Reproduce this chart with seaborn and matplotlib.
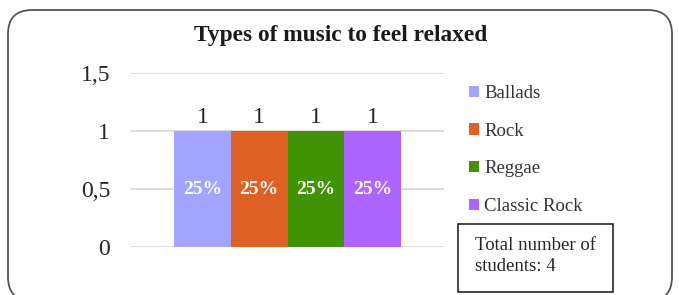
import matplotlib
matplotlib.use("Agg")
import matplotlib.pyplot as plt
from matplotlib.patches import FancyBboxPatch
from matplotlib.transforms import IdentityTransform
import pandas as pd
import seaborn as sns

genres = ["Ballads", "Rock", "Reggae", "Classic Rock"]
students = [1, 1, 1, 1]
colors = ["#A3A4FF", "#DF6126", "#419205", "#AC66FF"]
total_students = sum(students)

data = pd.DataFrame({"group": ["all"] * len(genres),
                     "Genre": genres,
                     "Students": students})

sns.set_theme(style="white")
plt.rcParams["font.family"] = ["Liberation Serif", "DejaVu Serif"]

fig = plt.figure(figsize=(6.79, 2.95), dpi=100)
ax = fig.add_axes([131 / 679, 1 - 247 / 295, 313 / 679, 174 / 295])

sns.barplot(data=data, x="group", y="Students", hue="Genre",
            palette=colors, width=0.725, gap=0, saturation=1,
            linewidth=0, ax=ax, zorder=3)

ax.set_ylim(0, 1.5)
ax.set_yticks([0, 0.5, 1, 1.5])
ax.set_yticklabels(["0", "0,5", "1", "1,5"])
ax.tick_params(axis="y", length=0, pad=15, labelsize=17, labelcolor="#262626")
ax.set_xticks([])
ax.set_xlabel("")
ax.set_ylabel("")
ax.grid(axis="y", color="#d9d9d9", linewidth=1.3, zorder=0)
ax.set_axisbelow(True)
for s in ax.spines.values():
    s.set_visible(False)

for cont, n in zip(ax.containers, students):
    ax.bar_label(cont, labels=[str(n)], padding=2, fontsize=17, color="#262626")
    ax.bar_label(cont, labels=[f"{n / total_students:.0%}"], label_type="center",
                 fontsize=14, fontweight="bold", color="white")

sns.move_legend(ax, "upper left", bbox_to_anchor=(469 / 679, 1 - 85 / 295),
                bbox_transform=fig.transFigure, frameon=False, title=None,
                fontsize=13.5, handlelength=0.55, handleheight=0.55,
                handletextpad=0.25, labelspacing=1.1, borderpad=0,
                borderaxespad=0, labelcolor="#333333")

fig.text(0.502, 1 - 35 / 295, "Types of music to feel relaxed",
         ha="center", va="center", fontsize=16.8, fontweight="bold", color="#1a1a1a")

# note box
fig.patches.append(FancyBboxPatch((458, 295 - 292), 155, 68,
                                  boxstyle="square,pad=0", transform=IdentityTransform(),
                                  facecolor="white", edgecolor="#262626", linewidth=1.2,
                                  figure=fig))
fig.text(475 / 679, 1 - 256 / 295, "Total number of\nstudents: " + str(total_students),
         ha="left", va="center", fontsize=13.5, color="#262626", linespacing=1.35)

# rounded outer frame
fig.patches.append(FancyBboxPatch((8, -6), 664, 291,
                                  boxstyle="round,pad=0,rounding_size=24",
                                  transform=IdentityTransform(), facecolor="none",
                                  edgecolor="#555555", linewidth=1.3, figure=fig))

fig.savefig("out.png", dpi=100)
